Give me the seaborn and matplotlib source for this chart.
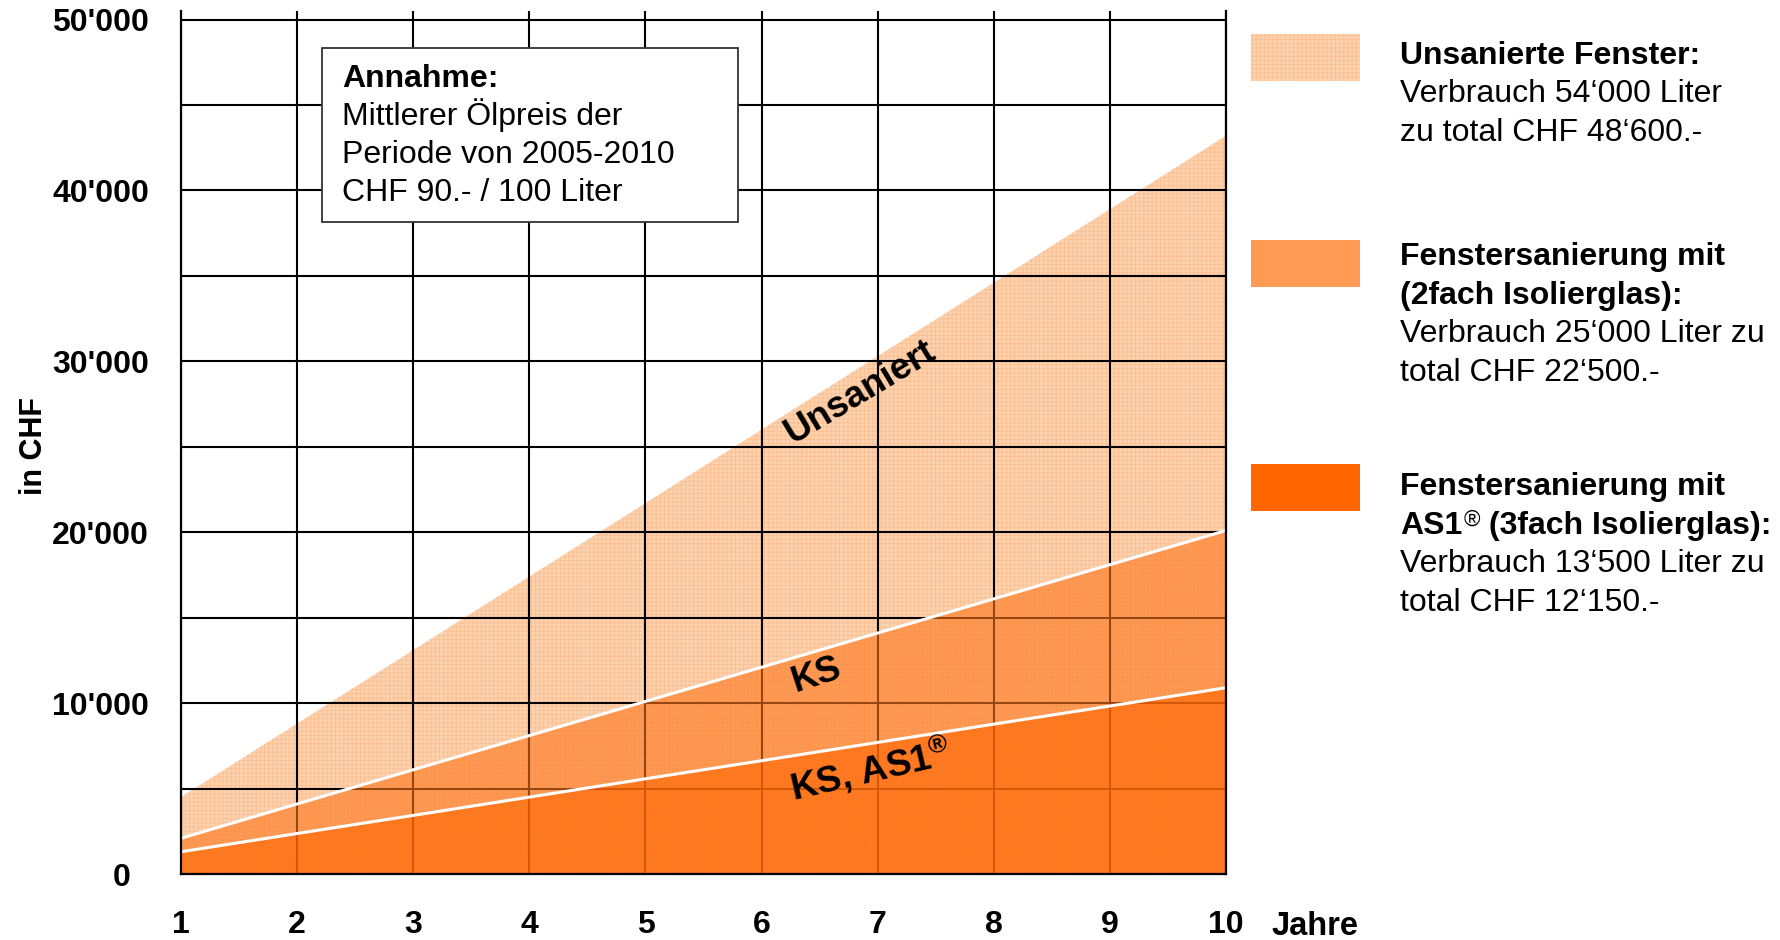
import numpy as np
import pandas as pd
import matplotlib
matplotlib.use("Agg")
import matplotlib.pyplot as plt
from matplotlib.patches import Rectangle
import seaborn as sns

# ---------------- data ----------------
years = [1, 2, 3, 4, 5, 6, 7, 8, 9, 10]
unsaniert = [4500, 8800, 13100, 17400, 21700, 26000, 30300, 34600, 38900, 43200]
ks = [2090, 4100, 6100, 8100, 10100, 12100, 14100, 16100, 18100, 20100]
ks_as1 = [1300, 2370, 3430, 4500, 5570, 6630, 7700, 8770, 9830, 10900]
y_ticks = [0, 10000, 20000, 30000, 40000, 50000]
y_ticklabels = ["0  ", "10'000", "20'000", "30'000", "40'000", "50'000"]
y_minor = [5000, 15000, 25000, 35000, 45000]
x_ticklabels = ["1", "2", "3", "4", "5", "6", "7", "8", "9", "10"]

df = pd.DataFrame({"Jahr": years, "Unsaniert": unsaniert, "KS": ks, "KS_AS1": ks_as1})

# ---------------- style ----------------
sns.set_theme(style="white")
plt.rcParams["font.family"] = ["Liberation Sans", "DejaVu Sans"]
plt.rcParams["mathtext.fontset"] = "custom"
plt.rcParams["mathtext.rm"] = "Liberation Sans"
plt.rcParams["mathtext.bf"] = "Liberation Sans:bold"
plt.rcParams["mathtext.default"] = "regular"
plt.rcParams["text.color"] = "black"
plt.rcParams["xtick.color"] = "black"
plt.rcParams["ytick.color"] = "black"
plt.rcParams["axes.labelcolor"] = "black"
plt.rcParams["hatch.linewidth"] = 0.6

W, H = 1780, 940
fig = plt.figure(figsize=(W / 100, H / 100), dpi=100)
fig.patch.set_facecolor("white")

def fx(px):
    return px / W

def fy(py):
    return 1 - py / H

ax = fig.add_axes([fx(181), fy(874), fx(1226) - fx(181), fy(11) - fy(874)])
ax.set_facecolor("white")

c_light = "#FDD2AF"
c_mid = "#FF751A"
c_dark = "#FF6500"

# light (unsaniert) area under grid
ax.fill_between(df["Jahr"], 0, df["Unsaniert"], facecolor=c_light, edgecolor="#FBBF92",
                hatch="++++", lw=0, zorder=0.2)
# KS and AS1 areas semi-transparent over grid
ax.fill_between(df["Jahr"], 0, df["KS"], color=c_mid, alpha=0.6, lw=0, zorder=1)
ax.fill_between(df["Jahr"], 0, df["KS_AS1"], color=c_dark, alpha=0.6, lw=0, zorder=1.1)

sns.lineplot(data=df, x="Jahr", y="KS", color="white", lw=2.2, ax=ax, zorder=2)
sns.lineplot(data=df, x="Jahr", y="KS_AS1", color="white", lw=2.2, ax=ax, zorder=2)

ax.set_xlim(1, 10)
ax.set_ylim(0, 50500)
ax.set_xticks(years)
ax.set_xticklabels(x_ticklabels)
ax.set_yticks(y_ticks)
ax.set_yticklabels(y_ticklabels)
ax.set_yticks(y_minor, minor=True)
ax.set_axisbelow(True)
ax.grid(which="both", color="black", lw=1.5)
ax.tick_params(axis="both", which="both", length=0)
ax.tick_params(axis="y", pad=23, labelsize=23)
ax.tick_params(axis="x", pad=26, labelsize=23)
for lab in ax.get_xticklabels() + ax.get_yticklabels():
    lab.set_fontweight("bold")
ax.set_xlabel("")
ax.set_ylabel("")

for side in ["left", "bottom", "right"]:
    ax.spines[side].set_visible(True)
    ax.spines[side].set_color("black")
    ax.spines[side].set_linewidth(1.6)
ax.spines["top"].set_visible(False)

# axis titles
fig.text(fx(1272), fy(935), "Jahre", fontsize=23.5, fontweight="bold", ha="left", va="baseline")
fig.text(fx(34), fy(446), "in CHF", fontsize=22, fontweight="bold", rotation=90,
         ha="center", va="center")

# in-chart labels
ax.text(6.85, 28190, "Unsaniert", rotation=31, rotation_mode="anchor", ha="center",
        va="center", fontsize=26.5, fontweight="bold", zorder=3)
ax.text(6.47, 11640, "KS", rotation=18, rotation_mode="anchor", ha="center",
        va="center", fontsize=26, fontweight="bold", zorder=3)
ax.text(6.94, 6080, "KS, AS1$^{®}$", rotation=13, rotation_mode="anchor", ha="center",
        va="center", fontsize=26.5, fontweight="bold", zorder=3)

# assumption box
fig.add_artist(Rectangle((fx(322), fy(222)), fx(738) - fx(322), fy(48) - fy(222),
                         transform=fig.transFigure, facecolor="white",
                         edgecolor="#333333", lw=1.3, zorder=5))
box_lines = [("Annahme:", "bold"), ("Mittlerer Ölpreis der", "normal"),
             ("Periode von 2005-2010", "normal"), ("CHF 90.- / 100 Liter", "normal")]
for i, (s, w) in enumerate(box_lines):
    fig.text(fx(342), fy(87 + i * 38), s, fontsize=23, fontweight=w,
             ha="left", va="baseline", zorder=6)

# legend patches
fig.add_artist(Rectangle((fx(1251), fy(81)), fx(1360) - fx(1251), fy(34) - fy(81),
                         transform=fig.transFigure, facecolor=c_light, edgecolor="#FBBF92",
                         hatch="++++", lw=0))
fig.add_artist(Rectangle((fx(1251), fy(287)), fx(1360) - fx(1251), fy(240) - fy(287),
                         transform=fig.transFigure, facecolor="#FF9A55", lw=0))
fig.add_artist(Rectangle((fx(1251), fy(511)), fx(1360) - fx(1251), fy(464) - fy(511),
                         transform=fig.transFigure, facecolor="#FF6600", lw=0))

LX = 1400
LS = 23
def ltext(py, s, w="normal"):
    return fig.text(fx(LX), fy(py), s, fontsize=LS, fontweight=w, ha="left", va="baseline")

ltext(64, "Unsanierte Fenster:", "bold")
ltext(102.5, "Verbrauch 54‘000 Liter")
ltext(141, "zu total CHF 48‘600.-")

ltext(265, "Fenstersanierung mit", "bold")
ltext(304, "(2fach Isolierglas):", "bold")
ltext(342, "Verbrauch 25‘000 Liter zu")
ltext(381, "total CHF 22‘500.-")

ltext(495, "Fenstersanierung mit", "bold")
t_as1 = ltext(534, "AS1", "bold")
t_reg = ax.annotate("®", xy=(1, 1), xycoords=t_as1, xytext=(1, 1), textcoords="offset points",
                    ha="left", va="top", fontsize=16, fontweight="normal", annotation_clip=False)
ax.annotate(" (3fach Isolierglas):", xy=(1, 0), xycoords=(t_reg, t_as1), ha="left",
            va="bottom", fontsize=LS, fontweight="bold", annotation_clip=False)
ltext(572, "Verbrauch 13‘500 Liter zu")
ltext(611, "total CHF 12‘150.-")

fig.savefig("out.png", dpi=100)
